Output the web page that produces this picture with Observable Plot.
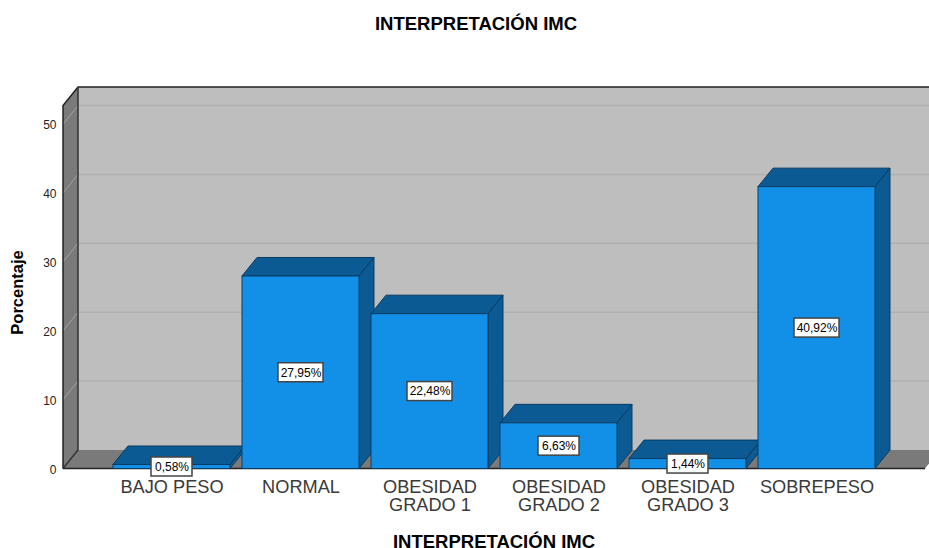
<!DOCTYPE html>
<html>
<head>
<meta charset="utf-8">
<script src="https://cdn.jsdelivr.net/npm/d3@7"></script>
<script src="https://cdn.jsdelivr.net/npm/@observablehq/plot@0.6"></script>
<style>
html,body{margin:0;padding:0;background:#fff;}
svg{display:block;}
</style>
</head>
<body>
<div id="chart"></div>
<script>
const categories = ["BAJO PESO","NORMAL","OBESIDAD\nGRADO 1","OBESIDAD\nGRADO 2","OBESIDAD\nGRADO 3","SOBREPESO"];
const porcentajes = [0.58,27.95,22.48,6.63,1.44,40.92];
const etiquetas = ["0,58%","27,95%","22,48%","6,63%","1,44%","40,92%"];
const yTicks = [0,10,20,30,40,50];
const titulo = "INTERPRETACIÓN IMC";
const ejeX = "INTERPRETACIÓN IMC";
const ejeY = "Porcentaje";

const table = categories.map((c,i)=>({c, v:porcentajes[i], t:etiquetas[i]}));
const DX = 15, DY = 18.5;
const FONT = "'Liberation Sans', Arial, sans-serif";
const C = {wall:"#bebebe", side:"#7a7a7a", front:"#1290e8", dark:"#0b5a94", edge:"#0a3c63",
           gridBack:"#b0b0b0", gridSide:"#a2a2a2", line:"#222"};

function svgEl(ctx, name, attrs){
  const e = ctx.document.createElementNS("http://www.w3.org/2000/svg", name);
  for (const k in attrs) e.setAttribute(k, attrs[k]);
  return e;
}
function poly(ctx, pts, fill, stroke, sw=1){
  return svgEl(ctx,"polygon",{points:pts.map(p=>p.join(",")).join(" "),fill,stroke:stroke||"none","stroke-width":sw});
}
const bandwidth = s => typeof s.bandwidth === "function" ? s.bandwidth() : s.bandwidth;

// Walls, floor and gridlines of the 3D box
function box(index, scales, values, dim, ctx){
  const g = svgEl(ctx,"g",{});
  const L = dim.marginLeft-43, R = dim.width-dim.marginRight+44;
  const y0 = scales.y(0), yT = dim.marginTop;
  g.append(poly(ctx,[[L+DX,yT-DY],[R+DX,yT-DY],[R+DX,y0-DY],[L+DX,y0-DY]],C.wall));
  g.append(poly(ctx,[[L,yT],[L+DX,yT-DY],[L+DX,y0-DY],[L,y0]],C.side));
  g.append(poly(ctx,[[L,y0],[L+DX,y0-DY],[R+DX,y0-DY],[R,y0]],C.side));
  for (const t of yTicks){
    const y = scales.y(t);
    g.append(svgEl(ctx,"line",{x1:L,y1:y,x2:L+DX,y2:y-DY,stroke:C.gridSide}));
    if (t>0) g.append(svgEl(ctx,"line",{x1:L+DX,y1:y-DY,x2:R+DX,y2:y-DY,stroke:C.gridBack,"stroke-width":1.5}));
  }
  g.append(svgEl(ctx,"path",{d:`M${L},${y0}L${L},${yT}L${L+DX},${yT-DY}L${R+DX},${yT-DY}`,fill:"none",stroke:C.line,"stroke-width":1.5}));
  g.append(svgEl(ctx,"path",{d:`M${L+DX},${yT-DY}L${L+DX},${y0-DY}L${L},${y0}`,fill:"none",stroke:"#333","stroke-width":1.5}));
  g.append(svgEl(ctx,"path",{d:`M${L},${y0}L${R},${y0}`,fill:"none",stroke:C.line,"stroke-width":1.5}));
  return g;
}

// Top and right faces of each bar, from the same scales as the front face
function depth(index, scales, values, dim, ctx){
  const g = svgEl(ctx,"g",{});
  const bw = bandwidth(scales.x);
  for (const d of table){
    const x1 = scales.x(d.c), x2 = x1+bw, y = scales.y(d.v), y0 = scales.y(0);
    g.append(poly(ctx,[[x1,y],[x1+DX,y-DY],[x2+DX,y-DY],[x2,y]],C.dark,C.edge));
    g.append(poly(ctx,[[x2,y],[x2+DX,y-DY],[x2+DX,y0-DY],[x2,y0]],C.dark,C.edge));
  }
  return g;
}

// White boxes behind the value labels
function labelBoxes(index, scales, values, dim, ctx){
  const g = svgEl(ctx,"g",{});
  const bw = bandwidth(scales.x);
  for (const d of table){
    const w = d.t.length>5 ? 45 : 41, h = 19;
    const cx = scales.x(d.c)+bw/2, cy = scales.y(d.v/2);
    g.append(svgEl(ctx,"rect",{x:cx-w/2,y:cy-h/2,width:w,height:h,fill:"#fff",stroke:"#444","stroke-width":1.5}));
  }
  return g;
}

const plot = Plot.plot({
  width:929, height:548,
  marginLeft:106, marginRight:48, marginTop:105.5, marginBottom:79.5,
  style:{fontFamily:FONT, background:"#fff", overflow:"hidden"},
  x:{type:"band", domain:categories, paddingInner:0.095, paddingOuter:0.0475, align:0.5, label:null},
  y:{domain:[0,52.7], label:null},
  marks:[
    box,
    depth,
    Plot.barY(table,{x:"c",y:"v",fill:C.front,stroke:C.edge,strokeWidth:1}),
    Plot.axisY({ticks:yTicks,tickSize:0,tickPadding:50,fontSize:12,label:null,fill:"#222",dy:1}),
    Plot.axisX({tickSize:0,tickPadding:11,fontSize:18.2,label:null,lineHeight:1.01,fill:"#3a3a3a"}),
    labelBoxes,
    Plot.text(table,{x:"c",y:d=>d.v/2,text:"t",fontSize:12,fill:"#000"}),
    Plot.text([titulo],{frameAnchor:"top",dx:-18,dy:-81.5,lineAnchor:"middle",fontSize:18.5,fontWeight:"bold",fill:"#000"}),
    Plot.text([ejeX],{frameAnchor:"bottom",dx:0,dy:73,lineAnchor:"middle",fontSize:18.5,fontWeight:"bold",fill:"#000"}),
    Plot.text([ejeY],{frameAnchor:"left",dx:-89,dy:5,rotate:-90,textAnchor:"middle",fontSize:16.5,fontWeight:"bold",fill:"#000"})
  ]
});
document.getElementById("chart").append(plot);
</script>
</body>
</html>
